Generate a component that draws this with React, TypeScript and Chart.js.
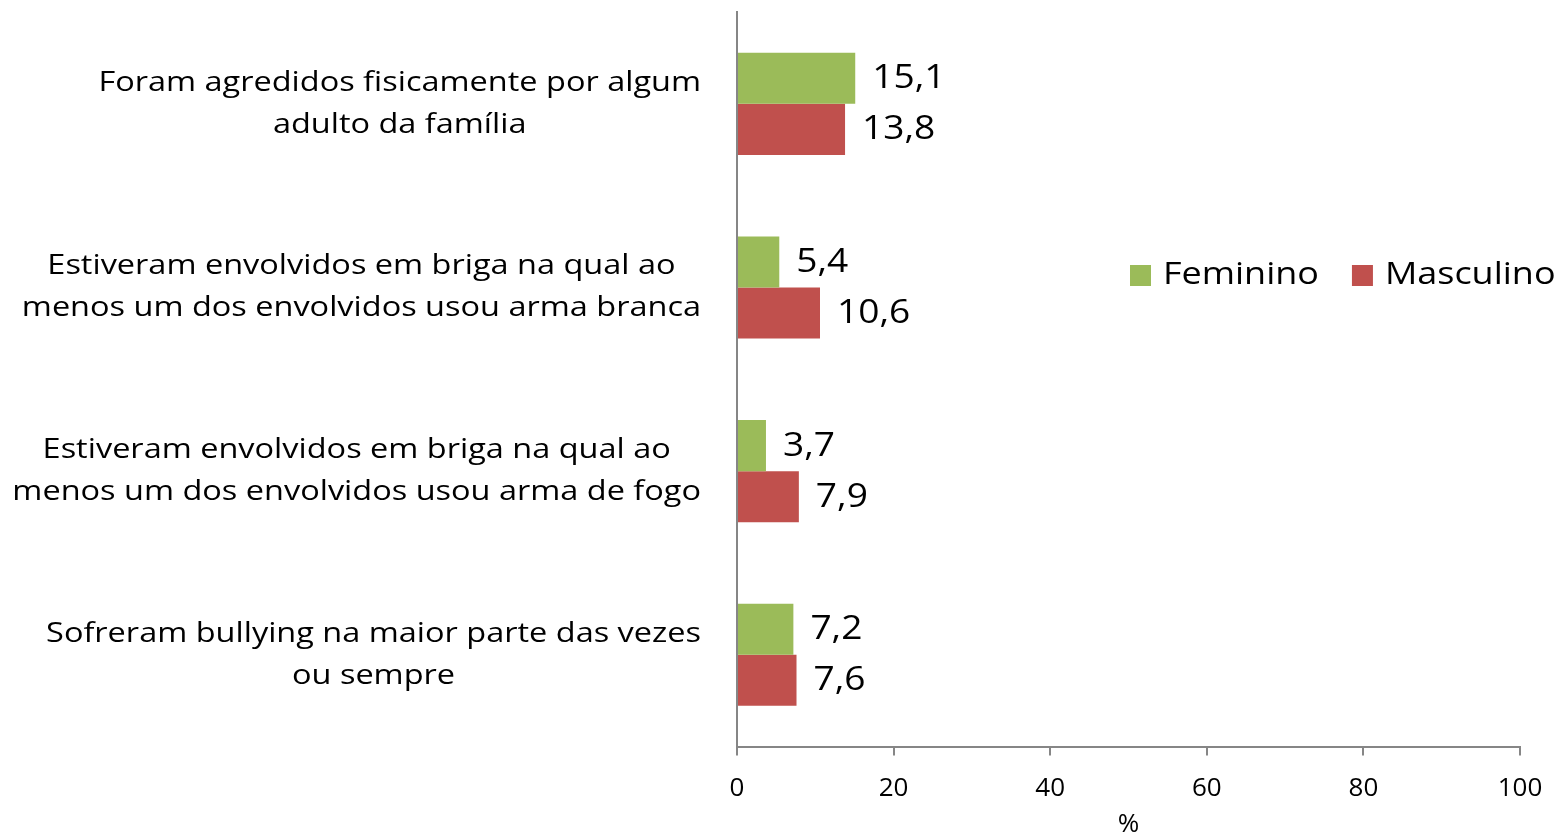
import React, { useEffect, useRef } from "react";
import { Chart, registerables } from "chart.js";

Chart.register(...registerables);

const categories: string[][] = [
  ["Foram agredidos fisicamente por algum", "adulto da família"],
  ["Estiveram envolvidos em briga na qual ao", "menos um dos envolvidos usou arma branca"],
  ["Estiveram envolvidos em briga na qual ao", "menos um dos envolvidos usou arma de fogo"],
  ["Sofreram bullying na maior parte das vezes", "ou sempre"],
];
const feminino: number[] = [15.1, 5.4, 3.7, 7.2];
const masculino: number[] = [13.8, 10.6, 7.9, 7.6];
const seriesNames: string[] = ["Feminino", "Masculino"];
const seriesColors: string[] = ["#9BBB59", "#C0504D"];
const xTicks: number[] = [0, 20, 40, 60, 80, 100];

const FONT = "'Open Sans', 'DejaVu Sans', sans-serif";
const SX = 1.16; // horizontal text stretch

function stretchedText(ctx: CanvasRenderingContext2D, text: string, x: number, y: number, align: "left" | "center") {
  const w = ctx.measureText(text).width * SX;
  const left = align === "left" ? x : x - w / 2;
  ctx.save();
  ctx.textAlign = "left";
  ctx.translate(left, y);
  ctx.scale(SX, 1);
  ctx.fillText(text, 0, 0);
  ctx.restore();
  return w;
}

const customPlugin = {
  id: "custom",
  afterDatasetsDraw(chart: any) {
    const ctx: CanvasRenderingContext2D = chart.ctx;
    ctx.save();
    ctx.textBaseline = "middle";
    // data labels
    ctx.fillStyle = "#000";
    ctx.font = `32px ${FONT}`;
    chart.data.datasets.forEach((ds: any, di: number) => {
      const meta = chart.getDatasetMeta(di);
      meta.data.forEach((bar: any, i: number) => {
        const v = ds.data[i] as number;
        stretchedText(ctx, v.toFixed(1).replace(".", ","), bar.x + 17, bar.y + 1, "left");
      });
    });
    // category labels
    const yScale = chart.scales.y;
    ctx.font = `28px ${FONT}`;
    categories.forEach((lines, i) => {
      const yc = yScale.getPixelForValue(i);
      const widths = lines.map((l) => ctx.measureText(l).width * SX);
      const maxW = Math.max(...widths);
      const cx = 701 - maxW / 2;
      const lh = 42;
      const y0 = yc - ((lines.length - 1) * lh) / 2;
      lines.forEach((l, k) => stretchedText(ctx, l, cx, y0 + k * lh, "center"));
    });
    // legend
    ctx.font = `31px ${FONT}`;
    let x = 1130;
    const ly = 275;
    seriesNames.forEach((name, i) => {
      ctx.fillStyle = seriesColors[i];
      ctx.fillRect(x, ly - 10, 21, 21);
      ctx.fillStyle = "#000";
      const w = stretchedText(ctx, name, x + 33, ly, "left");
      x += 33 + w + 33;
    });
    ctx.restore();
  },
};

export default function App() {
  const ref = useRef<HTMLCanvasElement>(null);
  useEffect(() => {
    document.body.style.margin = "0";
    const chart = new Chart(ref.current!, {
      type: "bar",
      data: {
        labels: categories.map((c) => c.join(" ")),
        datasets: [
          { label: seriesNames[0], data: feminino, backgroundColor: seriesColors[0], categoryPercentage: 0.556, barPercentage: 1 },
          { label: seriesNames[1], data: masculino, backgroundColor: seriesColors[1], categoryPercentage: 0.556, barPercentage: 1 },
        ],
      },
      options: {
        indexAxis: "y",
        responsive: false,
        animation: false,
        layout: { padding: { left: 729, right: 44, top: 12, bottom: -8 } },
        plugins: { legend: { display: false }, tooltip: { enabled: false } },
        scales: {
          x: {
            min: 0,
            max: 100,
            afterBuildTicks: (axis: any) => {
              axis.ticks = xTicks.map((v) => ({ value: v }));
            },
            grid: { display: true, drawOnChartArea: false, drawTicks: true, tickLength: 9, color: "#868686", lineWidth: 2 },
            border: { display: true, color: "#868686", width: 2 },
            ticks: { color: "#000", font: { family: FONT, size: 26 }, padding: 17 },
            title: { display: true, text: "%", color: "#000", font: { family: FONT, size: 26 }, padding: { top: -12, bottom: 0 } },
          },
          y: {
            grid: { display: false },
            border: { display: true, color: "#868686", width: 2 },
            ticks: { display: false },
          },
        },
      },
      plugins: [customPlugin],
    });
    return () => chart.destroy();
  }, []);
  return (
    <div style={{ width: 1564, height: 832 }}>
      <canvas ref={ref} width={1564} height={832} />
    </div>
  );
}
